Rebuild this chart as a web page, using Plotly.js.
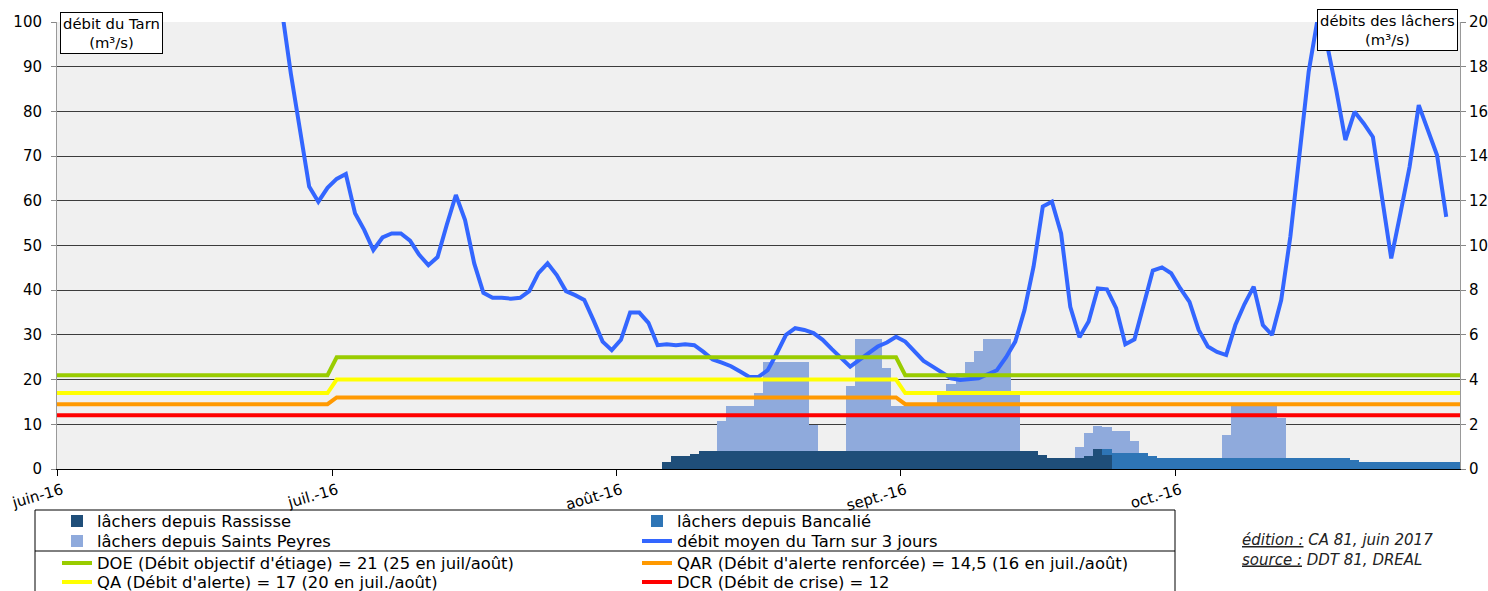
<!DOCTYPE html>
<html><head><meta charset="utf-8">
<script src="https://cdn.plot.ly/plotly-3.0.1.min.js"></script>
<style>html,body{margin:0;padding:0;background:#fff;} #chart{width:1488px;height:591px;}</style>
</head><body><div id="chart"></div>
<script>
// ---- tick labels ----
const monthTicks = ['2016-06-01','2016-07-01','2016-08-01','2016-09-01','2016-10-01'];
const monthLabels = ['juin-16','juil.-16','août-16','sept.-16','oct.-16'];

// ---- débit moyen du Tarn sur 3 jours (m³/s), one value per day from tarnStart ----
const tarnStart = '2016-06-24';
const tarnFlow = [
  120,103,88.5,76,63.2,59.8,62.9,64.9,66.0,57.2,
  53.5,49.0,51.8,52.7,52.7,51.1,47.9,45.6,47.4,54.6,
  61.3,55.7,46.0,39.4,38.3,38.3,38.1,38.3,39.8,43.8,
  46.0,43.4,39.8,38.9,37.8,33.3,28.5,26.6,28.9,35.0,
  35.0,32.7,27.7,27.9,27.7,27.9,27.7,26.2,24.5,23.8,
  23.0,21.8,20.6,20.6,22.1,25.9,30.0,31.5,31.1,30.4,
  28.9,26.8,24.8,22.9,24.4,25.9,27.4,28.3,29.6,28.5,
  26.2,24.2,22.9,21.5,20.3,19.9,20.1,20.3,21.2,22.1,
  25.0,28.5,35.5,45.3,58.7,59.8,52.7,36.3,29.5,33.0,
  40.4,40.2,36.0,27.9,29.0,37.1,44.4,45.1,43.8,40.4,
  37.4,31.1,27.4,26.2,25.5,32.2,36.9,40.8,32.2,30.0,
  37.8,52.0,69.9,88.9,101,95,84.8,73.6,79.9,77.3,
  74.3,60.2,47.1,57.2,67.6,81.4,75.8,70.2,56.4
];

// ---- lâchers (m³/s), one value per day from each start date ----
const rassisseStart = '2016-08-06';
const rassisse = [
  0.3,0.58,0.58,0.67,0.8,0.8,0.8,0.8,0.8,0.8,
  0.8,0.8,0.8,0.8,0.8,0.8,0.8,0.8,0.8,0.8,
  0.8,0.8,0.8,0.8,0.8,0.8,0.8,0.8,0.8,0.8,
  0.8,0.8,0.8,0.8,0.8,0.8,0.8,0.8,0.8,0.8,
  0.8,0.63,0.48,0.48,0.48,0.48,0.58,0.9,0.63
];
const bancalieStart = '2016-09-23';
const bancalie = [
  0.27,0.73,0.73,0.73,0.73,0.58,0.48,0.48,0.48,0.48,
  0.48,0.48,0.48,0.48,0.48,0.48,0.48,0.48,0.48,0.48,
  0.48,0.48,0.48,0.48,0.48,0.48,0.48,0.4,0.31,0.31,
  0.31,0.31,0.31,0.31,0.31,0.31,0.31,0.31,0.31
];
const saintsPeyresStart = '2016-08-12';
const saintsPeyres = [
  1.35,2.0,2.0,2.0,2.6,4.0,4.0,4.0,4.0,4.0,
  1.17,0,0,0,2.9,5.0,5.0,5.0,3.7,2.0,
  2.0,2.0,2.0,2.0,2.5,3.0,3.5,4.0,4.5,5.0,
  5.0,5.0,2.5,0,0,0,0,0,0,0.52,
  1.02,1.02,0.97,0.97,0.97,0.52,0,0,0,0,
  0,0,0,0,0,1.04,2.37,2.37,2.37,2.37,
  2.37,1.79
];

// ---- seuils (m³/s) ----
const thrDates = ['2016-06-01','2016-06-30 12:00','2016-07-01 12:00','2016-08-31 12:00','2016-09-01 12:00','2016-11-01'];
const doe = [21,21,25,25,21,21];
const qar = [14.5,14.5,16,16,14.5,14.5];
const qa  = [17,17,20,20,17,17];
const dcr = [12,12,12,12,12,12];

function dayList(start, n){
  const out = []; const t0 = Date.parse(start + 'T00:00:00Z');
  for (let i = 0; i < n; i++) out.push(new Date(t0 + i*86400000).toISOString().slice(0,10));
  return out;
}

const DAY = 86400000;
const FONT = 'DejaVu Sans, Verdana, sans-serif';

function barTrace(name, start, vals, color, leg){
  return {type:'bar', name:name, legend:leg, x:dayList(start, vals.length), y:vals,
    xperiod:DAY, xperiodalignment:'middle',
    marker:{color:color, line:{width:0}}, xaxis:'x', yaxis:'y', hoverinfo:'skip'};
}
function lineTrace(name, x, y, color, leg, period){
  const t = {type:'scatter', mode:'lines', name:name, legend:leg, x:x, y:y,
    line:{color:color, width:4}, xaxis:'x', yaxis:'y2', hoverinfo:'skip'};
  if (period){ t.xperiod = DAY; t.xperiodalignment = 'middle'; }
  return t;
}

const data = [
  barTrace('lâchers depuis Rassisse', rassisseStart, rassisse, '#1f4e79', 'legend'),
  barTrace('lâchers depuis Bancalié', bancalieStart, bancalie, '#2e75b6', 'legend'),
  barTrace('lâchers depuis Saints Peyres', saintsPeyresStart, saintsPeyres, '#8faadc', 'legend2'),
  lineTrace('débit moyen du Tarn sur 3 jours', dayList(tarnStart, tarnFlow.length), tarnFlow, '#3366ff', 'legend2', true),
  lineTrace("DOE (Débit objectif d'étiage) = 21 (25 en juil/août)", thrDates, doe, '#99cc00', 'legend3'),
  lineTrace("QAR (Débit d'alerte renforcée) = 14,5 (16 en juil./août)", thrDates, qar, '#ff9900', 'legend3'),
  lineTrace("QA (Débit d'alerte) = 17 (20 en juil./août)", thrDates, qa, '#ffff00', 'legend4'),
  lineTrace('DCR (Débit de crise) = 12', thrDates, dcr, '#ff0000', 'legend4')
];

// pixel helpers for paper coordinates (plot area x 57..1460, y 22..469)
const PX = p => (p - 57) / 1403;
const PY = p => (469 - p) / 447;

const LEGFONT = 16.4;
function legendRow(centerY){
  return {orientation:'h', x:PX(57), xanchor:'left', y:PY(centerY - 17.2), yanchor:'top',
    entrywidth:535, entrywidthmode:'pixels', itemwidth:30,
    font:{family:FONT, size:LEGFONT, color:'#000'}, bgcolor:'rgba(0,0,0,0)', borderwidth:0, traceorder:'normal'};
}

const layout = {
  width:1488, height:591,
  margin:{l:57, r:28, t:22, b:122, autoexpand:false},
  paper_bgcolor:'#ffffff', plot_bgcolor:'#f0f0f0',
  font:{family:FONT, size:14, color:'#000'},
  barmode:'stack', bargap:0,
  hovermode:false,
  showlegend:true,
  legend:legendRow(521),
  legend2:legendRow(541),
  legend3:legendRow(563),
  legend4:legendRow(582),
  xaxis:{type:'date', range:['2016-06-01','2016-11-01'], tickmode:'array', tickvals:monthTicks, ticktext:monthLabels,
    tickangle:-16, ticklabelshift:5, ticks:'outside', ticklen:6, tickcolor:'#000', showline:true, linecolor:'#000', linewidth:1,
    showgrid:false, zeroline:false, tickfont:{family:FONT, size:15, color:'#000'}},
  yaxis:{side:'right', range:[0,20], tickmode:'linear', tick0:0, dtick:2, ticks:'outside', ticklen:5, tickcolor:'#888',
    showline:true, linecolor:'#999', linewidth:1, showgrid:true, gridcolor:'#3c3c3c', gridwidth:1, zeroline:false,
    tickfont:{family:FONT, size:15, color:'#000'}},
  yaxis2:{overlaying:'y', anchor:'x', side:'left', range:[0,100], tickmode:'linear', tick0:0, dtick:10, ticks:'outside', ticklen:5,
    tickcolor:'#888', showline:true, linecolor:'#999', linewidth:1, showgrid:false, zeroline:false,
    ticklabelstandoff:6, tickfont:{family:FONT, size:15, color:'#000'}},
  shapes:[
    {type:'rect', xref:'paper', yref:'paper', x0:PX(35), x1:PX(1175), y0:PY(510), y1:PY(620), line:{color:'#000', width:1}, fillcolor:'rgba(0,0,0,0)'},
    {type:'line', xref:'paper', yref:'paper', x0:PX(35), x1:PX(1175), y0:PY(551), y1:PY(551), line:{color:'#000', width:1}}
  ],
  annotations:[
    {xref:'paper', yref:'paper', x:PX(111.5), y:PY(33), xanchor:'center', yanchor:'middle', showarrow:false,
     text:'débit du Tarn<br>(m³/s)', align:'center', bgcolor:'#fff', bordercolor:'#000', borderwidth:1, borderpad:2,
     font:{family:FONT, size:14.8, color:'#000'}},
    {xref:'paper', yref:'paper', x:PX(1387), y:PY(30), xanchor:'center', yanchor:'middle', showarrow:false,
     text:'débits des lâchers<br>(m³/s)', align:'center', bgcolor:'#fff', bordercolor:'#000', borderwidth:1, borderpad:2,
     font:{family:FONT, size:14.8, color:'#000'}},
    {xref:'paper', yref:'paper', x:PX(1240), y:PY(549.5), xanchor:'left', yanchor:'middle', showarrow:false,
     text:'<i><span style="text-decoration:underline">édition :</span> CA 81, juin 2017<br><span style="text-decoration:underline">source :</span> DDT 81, DREAL</i>',
     align:'left', font:{family:FONT, size:15, color:'#222'}}
  ]
};

Plotly.newPlot('chart', data, layout, {displayModeBar:false, staticPlot:true});
</script>
</body></html>
